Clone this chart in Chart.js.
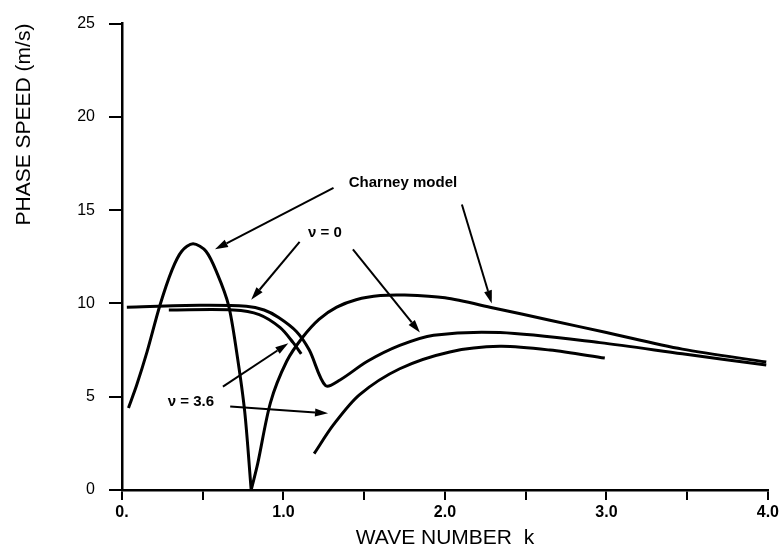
<!DOCTYPE html>
<html>
<head>
<meta charset="utf-8">
<script src="https://cdn.jsdelivr.net/npm/chart.js@4/dist/chart.umd.min.js"></script>
<style>
  html, body { margin: 0; padding: 0; background: #fff; }
  canvas { display: block; }
</style>
</head>
<body>
<canvas id="chart" width="782" height="549"></canvas>
<script>
// --- Data (k = wave number, c = phase speed m/s) ---
const charneyK1 = [0.04, 0.09, 0.155, 0.235, 0.31, 0.37, 0.44, 0.52, 0.59, 0.66, 0.71, 0.76, 0.80];
const charneyC1 = [4.4, 5.6, 7.4, 9.9, 11.8, 12.8, 13.2, 12.8, 11.6, 9.9, 7.4, 4.2, 0];

const charneyK2 = [0.80, 0.84, 0.92, 1.02, 1.12, 1.22, 1.33, 1.45, 1.6, 1.75, 2.0, 2.3, 2.65, 3.0, 3.47, 3.99];
const charneyC2 = [0, 1.4, 4.7, 6.9, 8.2, 9.15, 9.8, 10.2, 10.42, 10.45, 10.3, 9.76, 9.1, 8.44, 7.55, 6.86];

const nu0K = [0.03, 0.48, 0.77, 0.88, 0.97, 1.08, 1.16, 1.26, 1.35, 1.52, 1.72, 1.93, 2.34, 2.96, 3.47, 3.99];
const nu0C = [9.8, 9.9, 9.85, 9.65, 9.25, 8.5, 7.5, 5.6, 5.9, 6.9, 7.75, 8.3, 8.44, 7.9, 7.3, 6.7];

const nu36LeftK = [0.29, 0.69, 0.85, 0.98, 1.06, 1.11];
const nu36LeftC = [9.65, 9.65, 9.4, 8.7, 7.9, 7.3];
const nu36RightK = [1.19, 1.31, 1.47, 1.72, 2.03, 2.34, 2.65, 2.99];
const nu36RightC = [1.95, 3.5, 5.1, 6.5, 7.4, 7.7, 7.5, 7.07];

const xTickLabels = ['0.', '1.0', '2.0', '3.0', '4.0'];
const yTickLabels = ['0', '5', '10', '15', '20', '25'];

// annotation labels and arrows, in data units
const noteText = ['Charney model', 'ν = 0', 'ν = 3.6'];
const noteK = [1.74, 1.257, 0.427];
const noteC = [16.45, 13.8, 4.75];
const arrowFrom = [[1.31, 16.2], [2.105, 15.3], [1.10, 13.3], [1.43, 12.9], [0.625, 5.54], [0.67, 4.48]];
const arrowTo = [[0.576, 12.9], [2.29, 10.0], [0.80, 10.2], [1.845, 8.44], [1.03, 7.86], [1.276, 4.11]];

function toPoints(ks, cs) { return ks.map((k, i) => ({ x: k, y: cs[i] })); }

function curve(ks, cs) {
    return {
        data: toPoints(ks, cs),
        showLine: true,
        borderColor: '#000',
        borderWidth: 3,
        pointRadius: 0,
        tension: 0.3,
        fill: false
    };
}

// draws the labels and arrows on top of the curves
const notesPlugin = {
    id: 'notes',
    afterDatasetsDraw(chart) {
        const ctx = chart.ctx;
        const xs = chart.scales.x, ys = chart.scales.y;
        ctx.save();
        ctx.fillStyle = '#000';
        ctx.strokeStyle = '#000';
        ctx.font = 'bold 15px "Liberation Sans", Arial, sans-serif';
        ctx.textAlign = 'center';
        ctx.textBaseline = 'middle';
        noteText.forEach((t, i) => {
            ctx.fillText(t, xs.getPixelForValue(noteK[i]), ys.getPixelForValue(noteC[i]));
        });
        ctx.lineWidth = 2;
        arrowFrom.forEach((f, i) => {
            const x0 = xs.getPixelForValue(f[0]), y0 = ys.getPixelForValue(f[1]);
            const x1 = xs.getPixelForValue(arrowTo[i][0]), y1 = ys.getPixelForValue(arrowTo[i][1]);
            const a = Math.atan2(y1 - y0, x1 - x0);
            const len = 13, half = 4;
            const bx = x1 - len * Math.cos(a), by = y1 - len * Math.sin(a);
            ctx.beginPath();
            ctx.moveTo(x0, y0);
            ctx.lineTo(bx, by);
            ctx.stroke();
            ctx.beginPath();
            ctx.moveTo(x1, y1);
            ctx.lineTo(bx + half * Math.sin(a), by - half * Math.cos(a));
            ctx.lineTo(bx - half * Math.sin(a), by + half * Math.cos(a));
            ctx.closePath();
            ctx.fill();
        });
        ctx.restore();
    }
};

new Chart(document.getElementById('chart').getContext('2d'), {
    type: 'scatter',
    data: {
        datasets: [
            curve(charneyK1, charneyC1),
            curve(charneyK2, charneyC2),
            curve(nu0K, nu0C),
            curve(nu36LeftK, nu36LeftC),
            curve(nu36RightK, nu36RightC)
        ]
    },
    options: {
        animation: false,
        responsive: false,
        layout: { padding: { top: 16, right: 14, left: 0, bottom: 0 } },
        plugins: { legend: { display: false }, tooltip: { enabled: false } },
        scales: {
            x: {
                type: 'linear', min: 0, max: 4,
                afterFit: s => { s.height = 59; },
                border: { color: '#000', width: 2.5 },
                grid: { drawOnChartArea: false, color: '#000', lineWidth: 2, tickLength: 10 },
                ticks: {
                    stepSize: 0.5, color: '#000', padding: 3,
                    font: { family: '"Liberation Sans", Arial, sans-serif', size: 16, weight: 'bold' },
                    maxRotation: 0, autoSkip: false,
                    callback: v => Number.isInteger(v) ? xTickLabels[v] : ''
                },
                title: {
                    display: true, text: 'WAVE NUMBER  k', color: '#000',
                    font: { family: '"Liberation Sans", Arial, sans-serif', size: 21, lineHeight: 1 },
                    padding: { top: 0, bottom: 0 }
                }
            },
            y: {
                type: 'linear', min: 0, max: 25,
                afterFit: s => { s.width = 122; },
                border: { color: '#000', width: 2.5 },
                grid: { drawOnChartArea: false, color: '#000', lineWidth: 2, tickLength: 13 },
                ticks: {
                    stepSize: 5, color: '#000', padding: 14,
                    font: { family: '"Liberation Sans", Arial, sans-serif', size: 16 },
                    callback: v => yTickLabels[v / 5]
                },
                title: {
                    display: true, text: 'PHASE SPEED (m/s)', color: '#000', align: 'end',
                    font: { family: '"Liberation Sans", Arial, sans-serif', size: 21 },
                    padding: { top: 12, bottom: 0 }
                }
            }
        }
    },
    plugins: [notesPlugin]
});
</script>
</body>
</html>
